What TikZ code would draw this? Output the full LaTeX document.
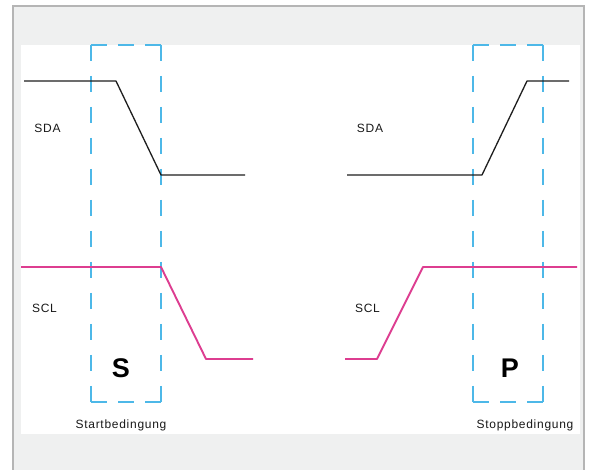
\documentclass[tikz,border=0pt]{standalone}
\usepackage{fontspec}
\setmainfont{Liberation Sans}
\newfontfamily\lblfont[LetterSpace=6]{Liberation Sans}
\definecolor{framegray}{HTML}{B5B5B5}
\definecolor{framefill}{HTML}{EFF0F0}
\definecolor{sclpink}{HTML}{DD3D90}
\definecolor{markblue}{HTML}{4DB8E8}
\definecolor{sdablack}{HTML}{1E1E1E}
\tikzset{
  sdaline/.style={draw=sdablack, line width=1.3pt, line join=round},
  sclline/.style={draw=sclpink, line width=1.9pt, line join=round},
  vside/.style={draw=markblue, line width=1.7pt, dash pattern=on 16pt off 15pt},
  hside/.style={draw=markblue, line width=1.7pt, dash pattern=on 16pt off 11pt},
  siglabel/.style={anchor=base, inner sep=0pt, font=\lblfont\fontsize{12}{14}\selectfont, text=black!90},
  condlabel/.style={anchor=base, inner sep=0pt, font=\lblfont\fontsize{12}{14}\selectfont, text=black!90},
  condletter/.style={anchor=base, inner sep=0pt, font=\bfseries\fontsize{27}{30}\selectfont, text=black}
}
\begin{document}
\begin{tikzpicture}[x=1pt, y=-1pt]
  \useasboundingbox (0,0) rectangle (590,470);
  % outer frame and white drawing panel
  \fill[white] (0,0) rectangle (590,470);
  \filldraw[fill=framefill, draw=framegray, line width=2.2pt] (13,6) rectangle (584,473);
  \fill[white] (21,45) rectangle (580,434);

  % condition windows (dashed)
  \foreach \xl/\xr/\nm in {91/161/S, 473/543/P} {
    \draw[hside] (\xl,45) -- (\xr,45);
    \draw[hside] (\xl,402) -- (\xr,402);
    \draw[vside] (\xl,45) -- (\xl,402);
    \draw[vside] (\xr,45) -- (\xr,402);
  }

  % SDA, start condition: falls while SCL is high
  \coordinate (sdaA0) at (24,81);
  \coordinate (sdaA1) at (116,81);
  \coordinate (sdaA2) at (161,175);
  \coordinate (sdaA3) at (245,175);
  \draw[sdaline] (sdaA0) -- (sdaA1) -- (sdaA2) -- (sdaA3);

  % SDA, stop condition: rises while SCL is high
  \coordinate (sdaB0) at (347,175);
  \coordinate (sdaB1) at (482,175);
  \coordinate (sdaB2) at (527,81);
  \coordinate (sdaB3) at (569,81);
  \draw[sdaline] (sdaB0) -- (sdaB1) -- (sdaB2) -- (sdaB3);

  % SCL, start side
  \coordinate (sclA0) at (21,267);
  \coordinate (sclA1) at (161,267);
  \coordinate (sclA2) at (206,359);
  \coordinate (sclA3) at (253,359);
  \draw[sclline] (sclA0) -- (sclA1) -- (sclA2) -- (sclA3);

  % SCL, stop side
  \coordinate (sclB0) at (345,359);
  \coordinate (sclB1) at (377,359);
  \coordinate (sclB2) at (423,267);
  \coordinate (sclB3) at (577,267);
  \draw[sclline] (sclB0) -- (sclB1) -- (sclB2) -- (sclB3);

  % signal names
  \node[siglabel] (sdaL) at (47.5,132.5) {SDA};
  \node[siglabel] (sdaR) at (370,132.5) {SDA};
  \node[siglabel] (sclL) at (44.5,313) {SCL};
  \node[siglabel] (sclR) at (367.5,313) {SCL};

  % condition letters and captions
  \node[condletter] (startS) at (121,378) {S};
  \node[condletter] (stopP) at (510,378) {P};
  \node[condlabel] (startCap) at (121,429) {Startbedingung};
  \node[condlabel] (stopCap) at (525,429) {Stoppbedingung};
\end{tikzpicture}
\end{document}
